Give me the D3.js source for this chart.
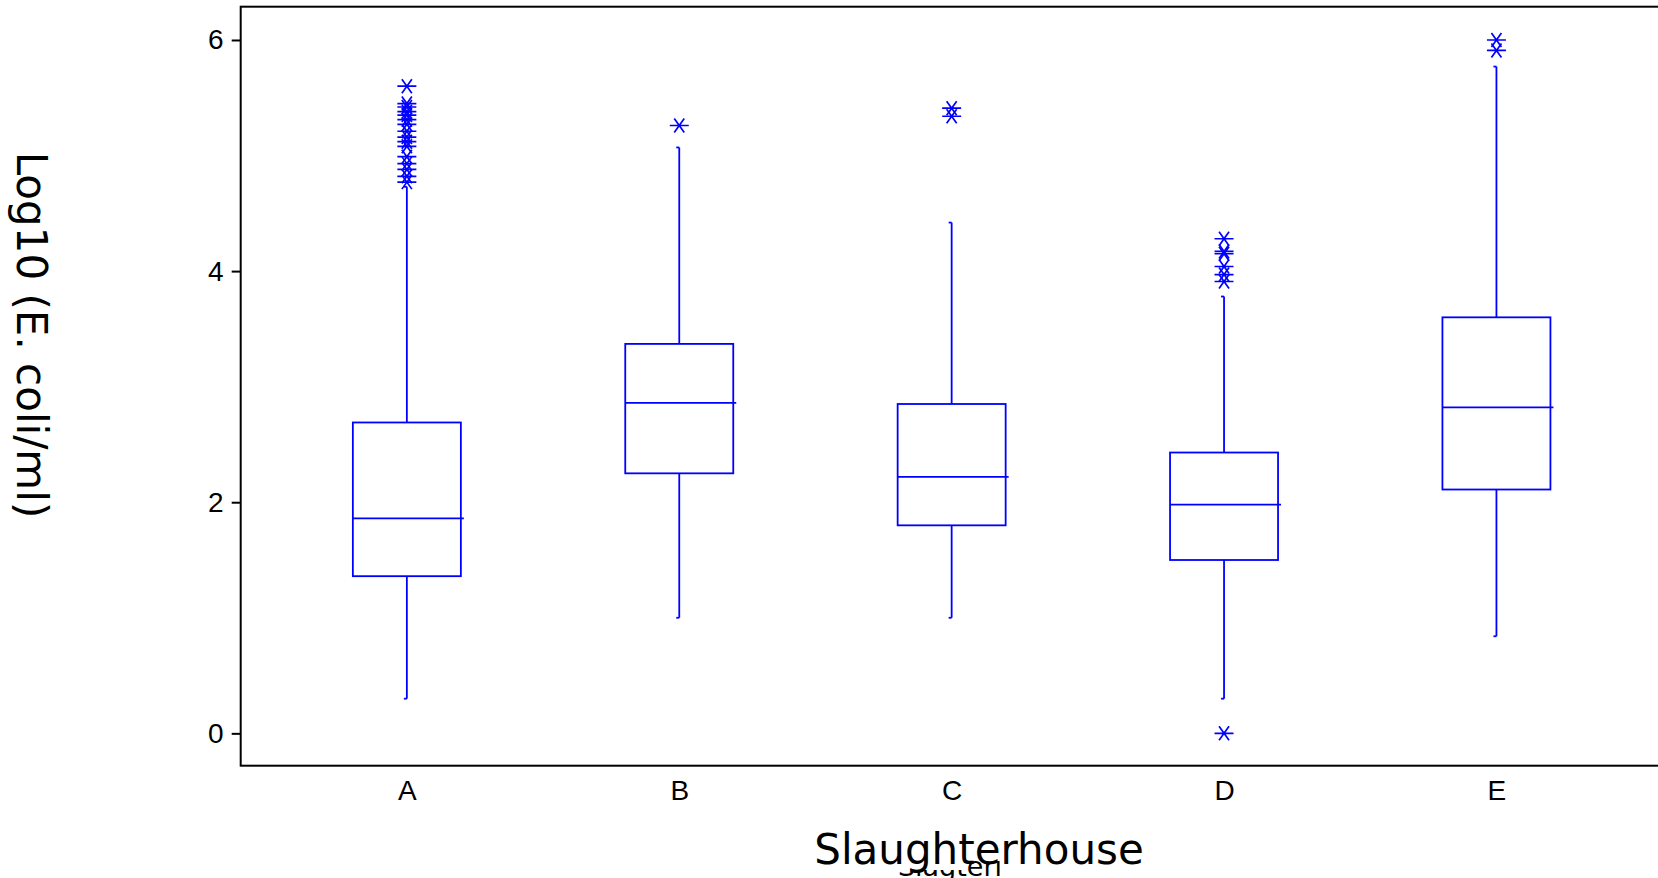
<!DOCTYPE html>
<html>
<head>
<meta charset="utf-8">
<script src="https://cdn.jsdelivr.net/npm/d3@7"></script>
<style>
body{margin:0;background:#fff;}
</style>
</head>
<body>
<script>
// slaughterhouse box plot data
var groups = ['A','B','C','D','E'];
var q1 = [1.36, 2.25, 1.80, 1.50, 2.11];
var med = [1.86, 2.86, 2.22, 1.98, 2.82];
var q3 = [2.69, 3.37, 2.85, 2.43, 3.60];
var whiskLo = [0.30, 1.00, 1.00, 0.30, 0.84];
var whiskHi = [4.73, 5.07, 4.42, 3.78, 5.77];
var outliers = [
  [5.60, 5.45, 5.42, 5.38, 5.35, 5.31, 5.27, 5.21, 5.16, 5.12, 5.08, 4.99, 4.93, 4.88, 4.82, 4.77],
  [5.26],
  [5.41, 5.34],
  [4.28, 4.17, 4.15, 4.04, 3.97, 3.91, 0.0],
  [6.00, 5.91]
];
var yTicks = [0, 2, 4, 6];

var W = 1658, H = 878;
var pL = 240.7, pT = 6.7, pB = 765.7, pR = 1662.6;
var blue = '#0000ff';

var svg = d3.select('body').append('svg')
  .attr('width', W).attr('height', H);

var x = d3.scalePoint().domain(groups).range([pL, pR]).padding(0.61);
var y = d3.scaleLinear().domain([-0.28, 6.288]).range([pB, pT]);

// frame (right edge runs off the page)
svg.append('rect')
  .attr('x', pL).attr('y', pT)
  .attr('width', pR - pL).attr('height', pB - pT)
  .attr('fill', 'none').attr('stroke', '#000').attr('stroke-width', 2);

// y axis
var yAxis = d3.axisLeft(y).tickValues(yTicks).tickSize(9).tickPadding(8).tickFormat(d3.format('d'));
var gy = svg.append('g').attr('transform', 'translate(' + pL + ',0)').call(yAxis);
gy.select('.domain').remove();
gy.selectAll('line').attr('stroke', '#000').attr('stroke-width', 2);
gy.selectAll('text').style('font-family', 'Liberation Sans, Arial, sans-serif').style('font-size', '28px').attr('fill', '#000');

// x axis labels
var xAxis = d3.axisBottom(x).tickSize(0).tickPadding(14);
var gx = svg.append('g').attr('transform', 'translate(0,' + pB + ')').call(xAxis);
gx.select('.domain').remove();
gx.selectAll('text').style('font-family', 'Liberation Sans, Arial, sans-serif').style('font-size', '28px').attr('fill', '#000');

var bw = 108;

for (let i = 0; i < groups.length; i++) {
  var cx = x(groups[i]);
  var g = svg.append('g').attr('stroke', blue).attr('fill', 'none').attr('stroke-width', 1.8);

  // whiskers
  g.append('line').attr('x1', cx).attr('x2', cx).attr('y1', y(q3[i])).attr('y2', y(whiskHi[i]));
  g.append('line').attr('x1', cx).attr('x2', cx).attr('y1', y(q1[i])).attr('y2', y(whiskLo[i]));
  g.append('line').attr('x1', cx - 3).attr('x2', cx).attr('y1', y(whiskHi[i])).attr('y2', y(whiskHi[i]));
  g.append('line').attr('x1', cx - 3).attr('x2', cx).attr('y1', y(whiskLo[i])).attr('y2', y(whiskLo[i]));

  // box
  g.append('rect')
    .attr('x', cx - bw / 2).attr('y', y(q3[i]))
    .attr('width', bw).attr('height', y(q1[i]) - y(q3[i]))
    .attr('fill', '#fff');
  g.append('line')
    .attr('x1', cx - bw / 2).attr('x2', cx + bw / 2 + 3)
    .attr('y1', y(med[i])).attr('y2', y(med[i]));

  // outlier stars
  outliers[i].forEach(function(v) {
    g.append('path')
      .attr('transform', 'translate(' + cx + ',' + y(v) + ')')
      .attr('d', 'M-9.5,0H9.5M-5,-7L5,7M5,-7L-5,7')
      .attr('stroke-width', 1.7);
  });
}

// y title
svg.append('text')
  .text('Log10 (E. coli/ml)')
  .attr('transform', 'translate(17,335) rotate(90)')
  .attr('text-anchor', 'middle')
  .style('font-family', 'DejaVu Sans, sans-serif')
  .style('font-size', '42px')
  .attr('fill', '#000');

// older title peeking out from under the new one
svg.append('text')
  .text('Slagteri')
  .attr('x', 950).attr('y', 876)
  .attr('text-anchor', 'middle')
  .style('font-family', 'DejaVu Sans, sans-serif')
  .style('font-size', '27px')
  .attr('fill', '#000');

svg.append('rect')
  .attr('x', 812).attr('y', 826).attr('width', 334).attr('height', 33)
  .attr('fill', '#fff');
svg.append('rect')
  .attr('x', 880).attr('y', 826).attr('width', 84).attr('height', 44)
  .attr('fill', '#fff');

svg.append('text')
  .text('Slaughterhouse')
  .attr('x', 979).attr('y', 864)
  .attr('text-anchor', 'middle')
  .style('font-family', 'DejaVu Sans, sans-serif')
  .style('font-size', '42px')
  .attr('fill', '#000');
</script>
</body>
</html>
